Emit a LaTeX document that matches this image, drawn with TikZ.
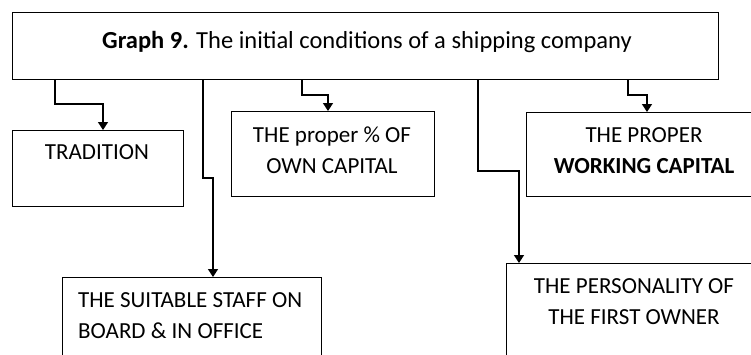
\documentclass[tikz,border=0pt]{standalone}
\usepackage{fontspec}
\setmainfont{Carlito}
\usetikzlibrary{arrows.meta}
\begin{document}
\begin{tikzpicture}[x=1pt,y=-1pt,
  box/.style={draw, line width=1pt, anchor=north west, inner sep=0pt},
  conn/.style={line width=1.4pt, -{Triangle[width=10pt,length=8pt]}},
  txt/.style={font=\fontsize{23}{31}\selectfont, align=center, inner sep=0pt}]
\useasboundingbox (0,0) rectangle (751,354);
\clip (0,0) rectangle (751,354);
\fill[white] (0,0) rectangle (751,354);
% boxes
\node[box, minimum width=706pt, minimum height=67pt] (title) at (12,12) {};
\node[box, minimum width=171pt, minimum height=76pt] (trad) at (12,130) {};
\node[box, minimum width=203pt, minimum height=85pt] (own) at (231,111) {};
\node[box, minimum width=260pt, minimum height=84pt] (work) at (526,112) {};
\node[box, minimum width=259pt, minimum height=120pt] (staff) at (62,277) {};
\node[box, minimum width=280pt, minimum height=120pt] (pers) at (506,263) {};
% texts
\node[txt, font=\fontsize{24.5}{28}\selectfont] (ttitle) at (367,42) {\textbf{Graph 9.} The initial conditions of a shipping company};
\node[txt] (ttrad) at (97,152) {TRADITION};
\node[txt] (town) at (332,150) {THE proper \% OF\\OWN CAPITAL};
\node[txt] (twork) at (644,151) {THE PROPER\\\textbf{WORKING CAPITAL}};
\node[txt, anchor=west, align=left] (tstaff) at (78,316) {THE SUITABLE STAFF ON\\BOARD \& IN OFFICE};
\node[txt] (tpers) at (634,301.5) {THE PERSONALITY OF\\THE FIRST OWNER};
% connector bends
\coordinate (c1) at (55,104);
\coordinate (c2) at (203,178);
\coordinate (c3) at (302,95);
\coordinate (c4) at (478,171);
\coordinate (c5) at (628,95);
\draw[conn] (title.south -| c1) -- (c1) -| (trad.north -| 103,0);
\draw[conn] (title.south -| c2) -- (c2) -| (staff.north -| 213,0);
\draw[conn] (title.south -| c3) -- (c3) -| (own.north -| 328,0);
\draw[conn] (title.south -| c4) -- (c4) -| (pers.north -| 519,0);
\draw[conn] (title.south -| c5) -- (c5) -| (work.north -| 647,0);
\end{tikzpicture}
\end{document}
